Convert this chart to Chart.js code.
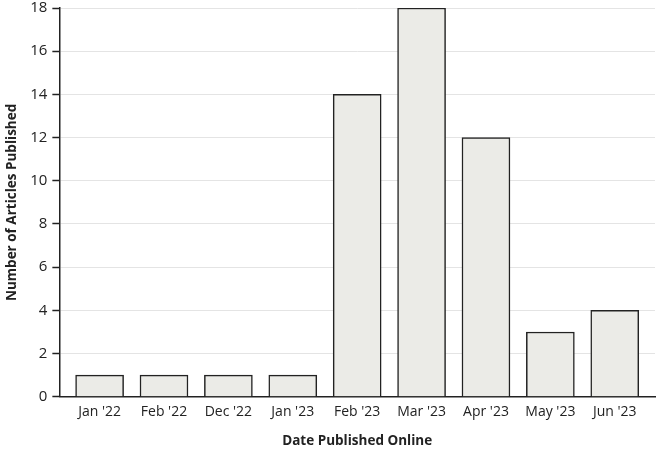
<!DOCTYPE html>
<html lang="en">
<head>
    <meta charset="UTF-8">
    <title>Articles Published</title>
    <script src="https://cdn.jsdelivr.net/npm/chart.js"></script>
    <style>
        body { margin: 0; background: #fff; }
        #wrap { width: 661px; height: 450px; }
    </style>
</head>
<body>
    <div id="wrap"><canvas id="articlesChart"></canvas></div>

    <script>
        const months = ["Jan '22", "Feb '22", "Dec '22", "Jan '23", "Feb '23", "Mar '23", "Apr '23", "May '23", "Jun '23"];
        const articles = [1, 1, 1, 1, 14, 18, 12, 3, 4];
        const yTicks = [0, 2, 4, 6, 8, 10, 12, 14, 16, 18];

        const font = "'Open Sans', 'DejaVu Sans', sans-serif";
        const ink = "#222";

        const ctx = document.getElementById("articlesChart").getContext("2d");
        new Chart(ctx, {
            type: "bar",
            data: {
                datasets: [{
                    data: articles.map((v, i) => ({ x: i, y: v })),
                    backgroundColor: "#ebebe7",
                    borderColor: ink,
                    borderWidth: 1.5,
                    barThickness: 48
                }]
            },
            options: {
                responsive: true,
                maintainAspectRatio: false,
                animation: false,
                layout: { padding: { top: 0, right: 6, left: 4, bottom: 1 } },
                plugins: { legend: { display: false }, tooltip: { enabled: false } },
                scales: {
                    x: {
                        type: "linear",
                        offset: false,
                        min: -0.625,
                        max: months.length - 1 + 0.625,
                        afterBuildTicks: axis => { axis.ticks = months.map((m, i) => ({ value: i })); },
                        ticks: {
                            callback: v => months[v],
                            color: ink,
                            font: { family: font, size: 14, lineHeight: 1.1 },
                            maxRotation: 0,
                            autoSkip: false,
                            padding: 0
                        },
                        grid: { display: false },
                        border: { display: true, color: ink, width: 1.5 },
                        title: {
                            display: true,
                            text: "Date Published Online",
                            color: ink,
                            font: { family: font, size: 13.5, weight: "bold", lineHeight: 1.1 },
                            padding: { top: 14, bottom: 0 }
                        }
                    },
                    y: {
                        min: 0,
                        max: 18,
                        afterBuildTicks: axis => { axis.ticks = yTicks.map(v => ({ value: v })); },
                        afterFit: axis => { axis.paddingTop = 8; axis.paddingBottom = 8; },
                        ticks: {
                            color: ink,
                            font: { family: font, size: 15, lineHeight: 1 },
                            padding: 5
                        },
                        grid: {
                            color: "#e4e4e4",
                            lineWidth: 1,
                            tickColor: ink,
                            tickLength: 7,
                            tickWidth: 1.5
                        },
                        border: { display: true, color: ink, width: 1.5 },
                        title: {
                            display: true,
                            text: "Number of Articles Published",
                            color: ink,
                            font: { family: font, size: 13.5, weight: "bold" },
                            padding: { top: 0, bottom: 5 }
                        }
                    }
                }
            }
        });
    </script>
</body>
</html>
